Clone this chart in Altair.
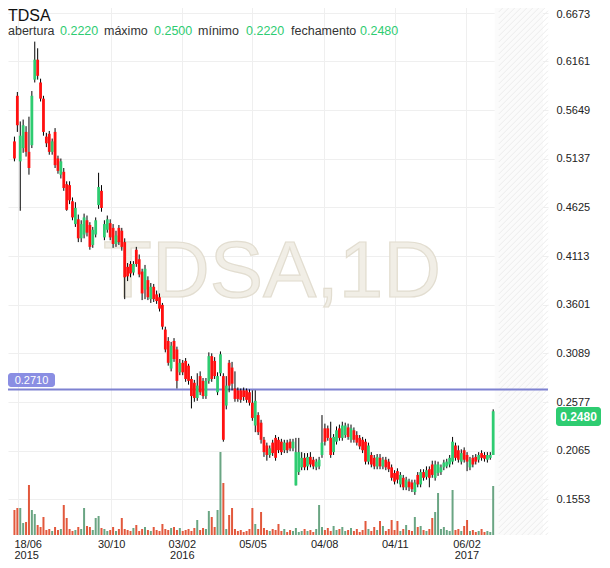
import altair as alt
import pandas as pd
import numpy as np

# ---- data (prices in thousandths of BRL) ----
open_ = [532,580,511,525,542,521,528,597,618,594,577,537,540,521,542,514,497,500,487,486,
         469,445,450,430,434,449,444,423,434,465,480,431,439,446,441,424,441,438,426,400,
         403,394,418,408,395,376,386,366,379,371,368,360,334,322,293,322,313,289,299,301,
         296,282,278,262,285,280,264,280,306,301,268,288,285,254,299,294,272,270,270,270,
         270,268,257,233,244,236,218,212,202,215,220,218,216,207,215,216,209,170,184,189,
         199,190,200,197,189,190,202,230,230,220,205,216,230,220,223,231,218,228,223,220,
         218,216,195,202,199,190,199,190,197,195,189,183,185,171,178,168,174,173,163,181,
         171,184,179,187,192,178,183,184,189,190,192,195,212,207,195,207,202,189,199,200,
         197,204,202,197,199,202]
high = [537,584,553,555,548,558,585,637,630,598,580,541,543,535,546,517,514,504,490,490,
        473,468,455,449,456,454,447,442,452,499,486,449,454,450,445,438,444,441,430,404,
        406,406,421,413,398,402,390,383,382,375,372,362,337,326,321,325,316,303,302,304,
        298,285,281,288,290,283,283,310,309,305,289,311,288,285,302,300,290,273,272,273,
        272,271,270,270,247,239,221,215,212,218,223,221,219,218,218,219,219,220,220,205,
        204,204,205,200,198,200,244,235,233,237,224,232,234,237,236,235,234,231,227,223,
        221,219,215,205,202,203,203,200,200,198,192,186,188,184,181,179,177,176,176,184,
        187,187,190,190,196,196,195,192,197,198,202,221,215,212,208,210,205,200,202,203,
        205,207,205,205,205,250]
low = [511,542,459,520,516,497,525,594,597,574,538,526,518,518,504,498,493,480,459,466,
       449,442,426,426,430,432,418,420,431,461,458,428,436,428,420,421,423,417,366,385,
       389,391,400,389,365,366,365,362,363,361,353,334,310,296,290,300,272,286,286,279,
       276,251,258,259,265,261,261,277,279,282,265,285,216,250,268,270,258,258,257,259,
       257,254,238,226,223,214,200,196,199,201,196,204,202,204,204,206,206,170,181,186,
       186,186,189,187,186,187,199,212,217,199,202,213,217,217,220,218,215,215,212,208,
       204,192,192,189,187,187,187,187,186,184,175,171,172,168,165,165,164,163,160,168,
       168,175,176,168,178,175,180,181,186,188,189,192,196,194,192,194,185,186,189,192,
       194,196,195,194,197,202]
close = [514,549,538,549,521,504,580,618,601,577,542,530,521,532,507,501,511,483,460,470,
         452,462,430,445,452,436,421,439,449,484,462,445,450,431,424,433,426,421,389,390,
         393,403,403,392,372,398,368,379,366,364,356,337,313,299,317,303,280,299,289,282,
         280,264,262,275,268,264,280,306,282,285,285,308,218,275,275,277,261,261,260,263,
         260,257,241,259,226,218,205,202,209,204,199,207,205,215,207,209,216,205,205,199,
         189,200,192,190,195,197,215,216,220,202,221,228,220,233,233,221,230,218,215,211,
         207,195,212,192,190,200,190,197,189,187,178,174,176,181,168,176,168,166,173,171,
         184,178,186,178,181,192,192,189,194,195,199,216,199,197,204,197,195,197,192,195,
         202,199,198,202,202,248]
volume = [250,270,270,120,130,500,250,210,100,80,180,50,60,40,80,50,60,300,170,60,
          40,50,80,60,270,90,80,50,170,190,70,60,40,50,80,40,60,170,60,50,
          40,70,100,40,60,80,50,40,80,50,40,110,60,50,70,80,50,70,40,50,
          60,40,70,150,50,70,60,240,180,80,250,830,520,60,200,270,60,40,50,30,
          40,60,270,110,60,230,70,50,40,60,50,110,40,60,30,50,40,70,30,40,
          60,40,50,30,60,300,80,50,70,40,90,50,60,80,40,50,70,40,60,30,
          50,140,60,40,80,50,140,90,40,60,150,50,140,40,60,100,50,40,180,80,
          90,50,40,60,170,230,420,60,80,50,40,450,50,60,40,90,150,40,50,30,
          40,60,30,40,30,490]

date_ticks = [1.19, 33.33, 57.68, 82.04, 106.74, 131.1, 155.8]
date_labels = [["18/06", "2015"], ["30/10"], ["03/02", "2016"], ["05/05"], ["04/08"], ["04/11"], ["06/02", "2017"]]
price_ticks = [0.1553, 0.2065, 0.2577, 0.3089, 0.3601, 0.4113, 0.4625, 0.5137, 0.5649, 0.6161, 0.6673]
ref_level = 0.2710
last_price = 0.2480
symbol = "TDSA"
watermark = "TDSA,1D"
header_names = ["abertura", "máximo", "mínimo", "fechamento"]
header_values = ["0.2220", "0.2500", "0.2220", "0.2480"]

# ---- layout / style ----
W, H = 540, 535
X_MAX = 182.17
FONT = "Liberation Sans"
UP, DOWN = "#2ecc71", "#ff1010"
VUP, VDOWN = "#6aa583", "#e2583c"
GRID = "#efefef"

n = len(close)
df = pd.DataFrame({
    "i": np.arange(n),
    "o": np.array(open_) / 1000,
    "h": np.array(high) / 1000,
    "l": np.array(low) / 1000,
    "c": np.array(close) / 1000,
    "v": np.array(volume),
})
df["dir"] = np.where(df["c"] >= df["o"], "up", "down")

xs = alt.Scale(domain=[-0.5, X_MAX], nice=False, zero=False)
ys = alt.Scale(domain=[0.1178, 0.6808], nice=False, zero=False)

expr = "''"
for t, lab in zip(reversed(date_ticks), reversed(date_labels)):
    arr = "[" + ",".join("'%s'" % s for s in lab) + "]"
    expr = "abs(datum.value - %s) < 0.5 ? %s : %s" % (t, arr, expr)

first_tick = "datum.value < %s" % (date_ticks[0] + 1)
x_axis = alt.Axis(values=date_ticks, labelExpr=expr, grid=True, gridColor=GRID, ticks=False,
                  domain=False, labelFont=FONT, labelFontSize=11, labelColor="#222",
                  labelPadding=3, labelLineHeight=11, labelFlush=False,
                  labelAlign={"condition": {"test": first_tick, "value": "left"}, "value": "center"},
                  labelOffset={"condition": {"test": first_tick, "value": -4}, "value": 0},
                  labelBaseline="top", title="")
y_axis = alt.Axis(values=price_ticks, format=".4f", orient="right", grid=True, gridColor=GRID,
                  ticks=False, domain=False, labelFont=FONT, labelFontSize=11, labelColor="#222",
                  labelPadding=8, title="",
                  labelOffset={"condition": {"test": "datum.value > 0.66", "value": 1.5}, "value": 0})

X = lambda f: alt.X(f, scale=xs, axis=x_axis)
Y = lambda f: alt.Y(f, scale=ys, axis=y_axis)

base = alt.Chart(df)

# future (empty, hatched) area on the right
x_future = (n - 0.5 + 0.5) * W / (X_MAX + 0.5)
future = alt.Chart(pd.DataFrame({"a": [n - 0.5], "b": [X_MAX]})).mark_rect(
    color="#fbfbfb"
).encode(x=X("a:Q"), x2="b:Q", y=alt.value(0), y2=alt.value(H))

segs = []
c = x_future
while c < W + H:
    xa, xb = max(x_future, c - H), min(W, c)
    if xb > xa:
        segs.append({"x1": xa, "y1": c - xa, "x2": xb, "y2": c - xb})
    c += 6
hatch = alt.Chart(pd.DataFrame(segs)).mark_rule(color="#ececec", strokeWidth=1).encode(
    x=alt.X("x1:Q", scale=None), y=alt.Y("y1:Q", scale=None), x2="x2:Q", y2="y2:Q")

wm = alt.Chart(pd.DataFrame({"t": [watermark]})).mark_text(
    font=FONT, fontSize=80, align="center", baseline="alphabetic",
    fill="#f1eee6", stroke="#e2ddd0", strokeWidth=1.2
).encode(x=alt.value(264), y=alt.value(297), text="t:N")

hline = alt.Chart(pd.DataFrame({"p": [ref_level]})).mark_rule(color="#7e82d1", strokeWidth=2).encode(
    y=Y("p:Q")
)

wick = base.mark_rule(color="#000", strokeWidth=1).encode(x=X("i:Q"), y=Y("l:Q"), y2="h:Q")
body = base.mark_bar(size=2.8, strokeWidth=0).encode(
    x=X("i:Q"), y=Y("o:Q"), y2="c:Q",
    color=alt.Color("dir:N", scale=alt.Scale(domain=["up", "down"], range=[UP, DOWN]), legend=None),
)

one = pd.DataFrame({"k": [0]})


def txt(t, x, y, size=13, color="#222", align="left", weight="normal", baseline="alphabetic"):
    return alt.Chart(pd.DataFrame({"t": [t]})).mark_text(
        font=FONT, fontSize=size, color=color, align=align, fontWeight=weight, baseline=baseline
    ).encode(x=alt.value(x), y=alt.value(y), text="t:N")


ref_box = alt.Chart(one).mark_rect(color="#8a8ee3", cornerRadius=3).encode(
    x=alt.value(0), x2=alt.value(47), y=alt.value(373), y2=alt.value(387))
ref_txt = txt("%.4f" % ref_level, 23.5, 380.5, size=11, color="white", align="center", baseline="middle")
last_box = alt.Chart(one).mark_rect(color="#2ecc71", cornerRadius=3).encode(
    x=alt.value(548), x2=alt.value(593), y=alt.value(407), y2=alt.value(426))
last_txt = txt("%.4f" % last_price, 570.5, 417, size=12, color="white", align="center",
               weight="bold", baseline="middle")

hdr = [txt(symbol, 0, 21, size=16, color="#111")]
name_x = [0, 96, 190, 283]
val_x = [52, 146, 238, 352]
for nm, vv, nx, vx in zip(header_names, header_values, name_x, val_x):
    hdr.append(txt(nm, nx, 35, size=12.5, color="#333"))
    hdr.append(txt(vv, vx, 35, size=12.5, color="#2ecc71"))

vol = base.mark_bar(size=2).encode(
    x=X("i:Q"),
    y=alt.Y("v:Q", scale=alt.Scale(domain=[0, 5350]), axis=None),
    color=alt.Color("dir:N", scale=alt.Scale(domain=["up", "down"], range=[VUP, VDOWN]), legend=None),
)

price = alt.layer(future, hatch, wm, hline, wick, body, ref_box, ref_txt, last_box, last_txt, *hdr)

chart = alt.layer(price, vol).resolve_scale(y="independent", color="independent").properties(
    width=W, height=H,
    background="white",
    autosize=alt.AutoSizeParams(type="none"),
    padding={"left": 0, "top": -8, "right": 54, "bottom": 25},
).configure_view(stroke=None)

chart.save("out.html", embed_options={"renderer": "svg", "actions": False})
